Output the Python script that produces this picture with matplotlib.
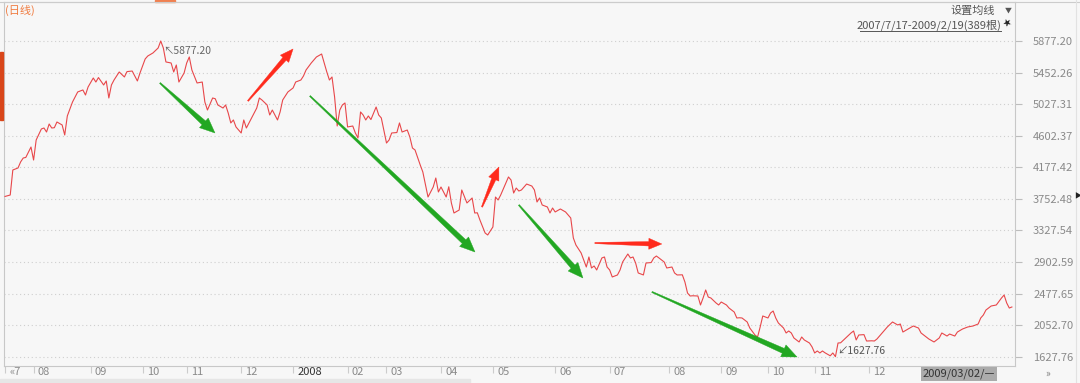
import numpy as np
import matplotlib
matplotlib.use('Agg')
import matplotlib.pyplot as plt
from matplotlib.patches import Polygon, Rectangle
from matplotlib.transforms import IdentityTransform, ScaledTranslation
from matplotlib.lines import Line2D

plt.rcParams['font.family'] = ['Noto Sans CJK SC', 'DejaVu Sans']

# trading day index (0 = 2007/7/17) and close
days = [0, 2, 3, 5, 6, 7, 8, 10, 11, 12,
        14, 15, 16, 17, 18, 19, 20, 22, 23, 24,
        25, 26, 28, 30, 31, 32, 34, 35, 36, 38,
        39, 40, 41, 42, 44, 46, 47, 49, 51, 52,
        54, 55, 57, 59, 60, 61, 62, 64, 65, 66,
        67, 69, 70, 71, 72, 74, 76, 77, 78, 80,
        81, 82, 84, 85, 86, 87, 88, 89, 91, 92,
        93, 94, 96, 97, 98, 99, 101, 102, 103, 105,
        106, 107, 109, 111, 112, 114, 115, 116, 118, 120,
        122, 124, 125, 126, 127, 128, 129, 130, 131, 132,
        134, 135, 136, 137, 138, 139, 140, 141, 143, 144,
        145, 147, 148, 149, 151, 152, 153, 155, 156, 157,
        158, 160, 161, 163, 165, 166, 167, 168, 170, 171,
        172, 173, 175, 176, 178, 180, 181, 182, 183, 185,
        186, 188, 189, 190, 191, 193, 194, 195, 196, 197,
        198, 199, 201, 203, 204, 205, 206, 207, 209, 210,
        211, 212, 214, 216, 218, 219, 220, 222, 223, 224,
        225, 226, 227, 228, 230, 231, 232, 233, 234, 236,
        237, 238, 240, 241, 242, 243, 244, 246, 247, 249,
        250, 251, 252, 254, 255, 257, 258, 259, 261, 262,
        263, 264, 265, 267, 268, 269, 270, 271, 272, 274,
        275, 276, 278, 279, 281, 282, 283, 284, 286, 287,
        289, 290, 291, 292, 294, 295, 296, 297, 298, 300,
        301, 302, 303, 304, 306, 307, 308, 310, 311, 312,
        313, 314, 315, 316, 318, 319, 320, 321, 322, 324,
        326, 327, 328, 329, 331, 332, 334, 335, 336, 338,
        339, 340, 342, 344, 345, 346, 348, 350, 352, 353,
        355, 356, 358, 360, 361, 363, 364, 366, 367, 369,
        371, 373, 375, 376, 377, 378, 380, 382, 384, 385,
        386, 387, 388]
close = [3785, 3804, 4141, 4168, 4249, 4302, 4310, 4450, 4275, 4545,
         4693, 4706, 4652, 4760, 4706, 4710, 4787, 4747, 4612, 4868,
         4962, 5056, 5191, 5218, 5150, 5258, 5379, 5325, 5385, 5285,
         5339, 5110, 5285, 5352, 5460, 5393, 5465, 5473, 5339, 5446,
         5635, 5675, 5716, 5783, 5877.20, 5783, 5595, 5581, 5460, 5554,
         5325, 5446, 5581, 5662, 5487, 5312, 5325, 5056, 4948, 5110,
         5100, 5016, 4975, 5016, 4908, 4774, 4814, 4720, 4639, 4814,
         4706, 4774, 4908, 4975, 5110, 5083, 5016, 4881, 4948, 4814,
         4922, 5083, 5191, 5245, 5325, 5352, 5406, 5487, 5581, 5662,
         5702, 5460, 5352, 5393, 5123, 4733, 4948, 5016, 5043, 4720,
         4733, 4639, 4572, 4922, 4881, 4814, 4868, 4820, 4989, 4881,
         4841, 4504, 4545, 4639, 4645, 4774, 4652, 4679, 4585, 4437,
         4410, 4208, 4114, 3777, 3912, 4033, 3845, 3912, 3777, 3915,
         3697, 3562, 3602, 3872, 3697, 3764, 3562, 3565, 3468, 3293,
         3266, 3374, 3777, 3737, 3804, 3966, 4047, 4006, 3831, 3898,
         3858, 3872, 3952, 3925, 3872, 3710, 3764, 3670, 3643, 3562,
         3629, 3576, 3616, 3576, 3495, 3226, 3131, 3024, 2930, 2835,
         2970, 2822, 2849, 2795, 2957, 2970, 2835, 2795, 2701, 2728,
         2795, 2903, 3010, 2957, 2970, 2889, 2755, 2728, 2889, 2895,
         2957, 2983, 2957, 2903, 2822, 2835, 2755, 2728, 2730, 2633,
         2485, 2445, 2448, 2445, 2324, 2418, 2526, 2431, 2418, 2351,
         2324, 2364, 2324, 2283, 2229, 2149, 2152, 2149, 2095, 2014,
         1920, 1893, 2028, 2176, 2149, 2216, 2243, 2149, 2082, 2014,
         1947, 1974, 1947, 1880, 1826, 1893, 1853, 1812, 1759, 1678,
         1705, 1678, 1705, 1680, 1640, 1678, 1627.76, 1812, 1815, 1880,
         1947, 1974, 1853, 1920, 1925, 1839, 1842, 1839, 1866, 1947,
         1987, 2028, 2095, 2055, 2068, 1960, 2001, 2041, 2014, 1947,
         1893, 1866, 1826, 1880, 1947, 1906, 1933, 1906, 1960, 2001,
         2028, 2041, 2068, 2149, 2189, 2256, 2310, 2324, 2418, 2458,
         2351, 2283, 2297]

month_pos = [0, 11, 33, 53, 70, 91, 111, 132, 147, 168, 188,
             212, 233, 256, 276, 294, 312, 333]
month_lbl = ['«7', '08', '09', '10', '11', '12', '2008', '02', '03', '04', '05',
             '06', '07', '08', '09', '10', '11', '12']

y_ticks = [1627.76, 2052.70, 2477.65, 2902.59, 3327.54, 3752.48,
           4177.42, 4602.37, 5027.31, 5452.26, 5877.20]

# hand-drawn trend arrows: (tail, head) in (day, price)
green_arrows = [((59.7, 5312), (80.9, 4639)),
                ((117.5, 5137), (181.1, 3037)),
                ((198.0, 3670), (222.7, 2687)),
                ((249.3, 2499), (305.2, 1624))]
red_arrows = [((93.6, 5070), (111.0, 5770)),
              ((183.8, 3643), (190.3, 4181)),
              ((227.3, 3158), (253.1, 3145))]

W, H = 1080, 383
bg = '#f7f7f7'
fig = plt.figure(figsize=(W / 100, H / 100), dpi=100, facecolor=bg)
ax = fig.add_axes([4 / W, 1 - 366 / H, (1015 - 4) / W, (366 - 2) / H])
ax.set_facecolor(bg)

ax.plot(days, close, color='#e8474a', lw=0.8, zorder=3)
ax.set_xlim(-0.4, 389.2)
ax.set_ylim(1502.7, 6402)

ax.set_yticks(y_ticks)
ax.set_yticklabels(['%.2f' % v for v in y_ticks])
ax.yaxis.tick_right()
ax.tick_params(axis='y', direction='out', length=5, width=0.8, color='#bdbdbd',
               labelcolor='#8a8a8a', labelsize=8, pad=8)
ax.grid(axis='y', color='#cfcfcf', lw=0.8, ls=(0, (1, 2.5)))

ax.set_xticks(month_pos)
ax.set_xticklabels(month_lbl)
ax.tick_params(axis='x', direction='out', length=5, width=0.8, color='#cccccc',
               labelcolor='#8a8a8a', labelsize=8, pad=-4)
off = ScaledTranslation(3 / 72, 0, fig.dpi_scale_trans)
for lbl in ax.get_xticklabels():
    lbl.set_ha('left')
    lbl.set_transform(lbl.get_transform() + off)
    if lbl.get_text() == '2008':
        lbl.set_color('#333333')

for s in ['left', 'right', 'bottom', 'top']:
    ax.spines[s].set_color('#c8c8c8')
    ax.spines[s].set_linewidth(0.8)

# extreme value labels
i_hi = int(np.argmax(close))
i_lo = int(np.argmin(close))
ax.annotate('↖' + '%.2f' % close[i_hi], (days[i_hi], close[i_hi]),
            xytext=(2, -7), textcoords='offset points', fontsize=7.5,
            color='#666666', va='center', ha='left')
ax.annotate('↙' + '%.2f' % close[i_lo], (days[i_lo], close[i_lo]),
            xytext=(1, 4), textcoords='offset points', fontsize=7.5,
            color='#555555', va='center', ha='left')


def draw_arrow(tail, head, color, bw=2.6, hw=6.5, hl=15):
    p0 = ax.transData.transform(tail)
    p1 = ax.transData.transform(head)
    d = p1 - p0
    L = np.hypot(*d)
    u = d / L
    n = np.array([-u[1], u[0]])
    base = p1 - u * hl
    pts = [p0 + n * 0.6, base + n * bw, base + n * hw, p1,
           base - n * hw, base - n * bw, p0 - n * 0.6]
    fig.add_artist(Polygon(pts, closed=True, transform=IdentityTransform(),
                           facecolor=color, edgecolor=color, lw=0.3, zorder=5))


for t, h in green_arrows:
    draw_arrow(t, h, '#22a722')
for t, h in red_arrows:
    draw_arrow(t, h, '#ff2a1c', bw=2.2, hw=5.5, hl=13)

# header texts
fig.text(5 / W, 1 - 10 / H, '(日线)', color='#f07b3f', fontsize=8, va='center')
fig.text(995 / W, 1 - 11 / H, '设置均线', color='#555555', fontsize=8,
         va='center', ha='right')
fig.text(1008 / W, 1 - 11 / H, '▼', color='#555555', fontsize=5,
         va='center', ha='center')
fig.text(1001 / W, 1 - 25 / H, '2007/7/17-2009/2/19(389根)', color='#555555',
         fontsize=8, va='center', ha='right')
fig.add_artist(Line2D([860 / W, 1001 / W], [1 - 31 / H, 1 - 31 / H],
                      color='#555555', lw=0.7))
fig.text(1008 / W, 1 - 23 / H, '★', color='#222222', fontsize=6,
         va='center', ha='center', rotation=30)

# frame decorations
fig.add_artist(Line2D([0, 1], [1 - 2 / H, 1 - 2 / H], color='#cccccc', lw=0.8))
fig.add_artist(Rectangle((155 / W, 1 - 2 / H), 20 / W, 2 / H,
                         color='#f08050', transform=fig.transFigure))
fig.add_artist(Rectangle((0, 1 - 120 / H), 3 / W, 68 / H,
                         color='#d9461a', transform=fig.transFigure))
fig.add_artist(Line2D([1076 / W, 1076 / W], [0, 1], color='#e2e2e2', lw=0.8))
fig.text(1078 / W, 1 - 196 / H, '▶', color='#222222', fontsize=5,
         va='center', ha='center')
fig.add_artist(Rectangle((0, 0), 470 / W, 4 / H, color='#e6e6e6',
                         transform=fig.transFigure))

# bottom date box and scroll mark
fig.text(923 / W, 1 - 374 / H, '2009/03/02/—', color='#333333', fontsize=8,
         va='center', ha='left',
         bbox=dict(facecolor='#ababab', edgecolor='none', pad=1.5))
fig.text(1048 / W, 1 - 374 / H, '»', color='#777777', fontsize=7,
         va='center', ha='center')

fig.savefig('out.png', dpi=100, facecolor=bg)
